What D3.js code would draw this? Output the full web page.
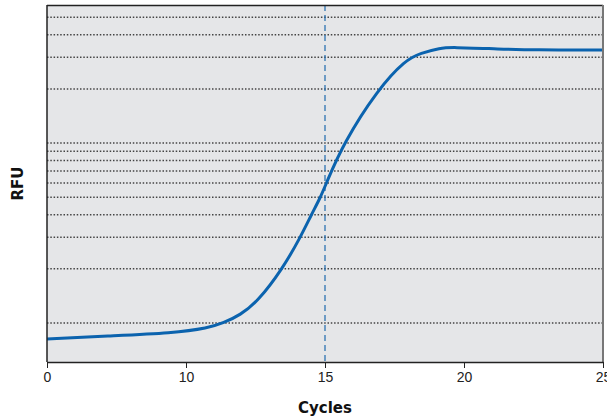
<!DOCTYPE html>
<html>
<head>
<meta charset="utf-8">
<script src="https://cdn.jsdelivr.net/npm/d3@7"></script>
<style>
  body{margin:0;background:#fff;}
  svg{display:block;font-family:Lato,"Open Sans",sans-serif;}
  .axis path,.axis line{stroke:#222;}
  .axis text{font-size:14px;fill:#222;font-weight:300;}
  .grid line{stroke:#444;stroke-width:1.5;stroke-dasharray:1.5,1.8;}
  .ct{stroke:#1f6aad;stroke-width:1.2;stroke-dasharray:6,4;}
  .curve{fill:none;stroke:#0b63ae;stroke-width:3;}
  .title{font-size:15px;font-weight:700;fill:#111;font-family:"DejaVu Sans",sans-serif;}
</style>
</head>
<body>
<div id="chart"></div>
<script>
const margin={top:5,right:4,bottom:57,left:47},
      W=607-margin.left-margin.right,
      H=419-margin.top-margin.bottom;

// data
const cycles=[0,4.3,9.1,10.8,11.35,11.95,12.57,13.47,14.12,14.51,14.84,15.05,15.67,16.89,17.9,18.44,19.16,19.52,21.3,22.5,25];
const rfu=[0.815,0.847,0.88,0.938,1.0,1.108,1.31,2.0,3.0,4.0,5.0,6.0,10,19.8,29.0,31.6,33.7,34.1,33.3,32.9,32.9];
const xTicks=[0,10,15,20,25];
const gridVals=[1,2,3,4,5,6,7,8,9,10,20,30,40,50];
const threshold=15;

const svg=d3.select('#chart').append('svg')
  .attr('width',607).attr('height',419);
const g=svg.append('g').attr('transform',`translate(${margin.left},${margin.top})`);

const x=d3.scaleLinear().domain([0,10,25]).range([0,W/4,W]);
const y=d3.scaleLog().domain([0.607,58.5]).range([H,0]);

g.append('rect').attr('width',W).attr('height',H).attr('fill','#e5e6e8');

g.append('g').attr('class','grid').selectAll('line')
  .data(gridVals).enter().append('line')
  .attr('x1',0).attr('x2',W)
  .attr('y1',d=>y(d)).attr('y2',d=>y(d));

g.append('line').attr('class','ct')
  .attr('x1',x(threshold)).attr('x2',x(threshold))
  .attr('y1',0).attr('y2',H);

const pts=cycles.map((c,i)=>({c,v:rfu[i]}));
const line=d3.line().x(d=>x(d.c)).y(d=>y(d.v)).curve(d3.curveBasis);
g.append('path').datum(pts).attr('class','curve').attr('d',line);

// frame
g.append('line').attr('x1',0).attr('x2',W).attr('y1',0.5).attr('y2',0.5).attr('stroke','#222').attr('stroke-width',1.5);
g.append('line').attr('x1',W).attr('x2',W).attr('y1',0).attr('y2',H).attr('stroke','#777').attr('stroke-width',2);
g.append('line').attr('x1',0).attr('x2',0).attr('y1',0).attr('y2',H).attr('stroke','#222').attr('stroke-width',1.5);

g.append('g').attr('class','axis')
  .attr('transform',`translate(0,${H})`)
  .call(d3.axisBottom(x).tickValues(xTicks).tickSize(6).tickPadding(4).tickSizeOuter(0))
  .call(a=>a.select('.domain').attr('stroke-width',1.5));

svg.append('text').attr('class','title')
  .attr('x',margin.left+x(threshold)).attr('y',413)
  .attr('text-anchor','middle').text('Cycles');
svg.append('text').attr('class','title')
  .attr('transform',`translate(23,${margin.top+H/2}) rotate(-90)`)
  .attr('text-anchor','middle').text('RFU');
</script>
</body>
</html>
